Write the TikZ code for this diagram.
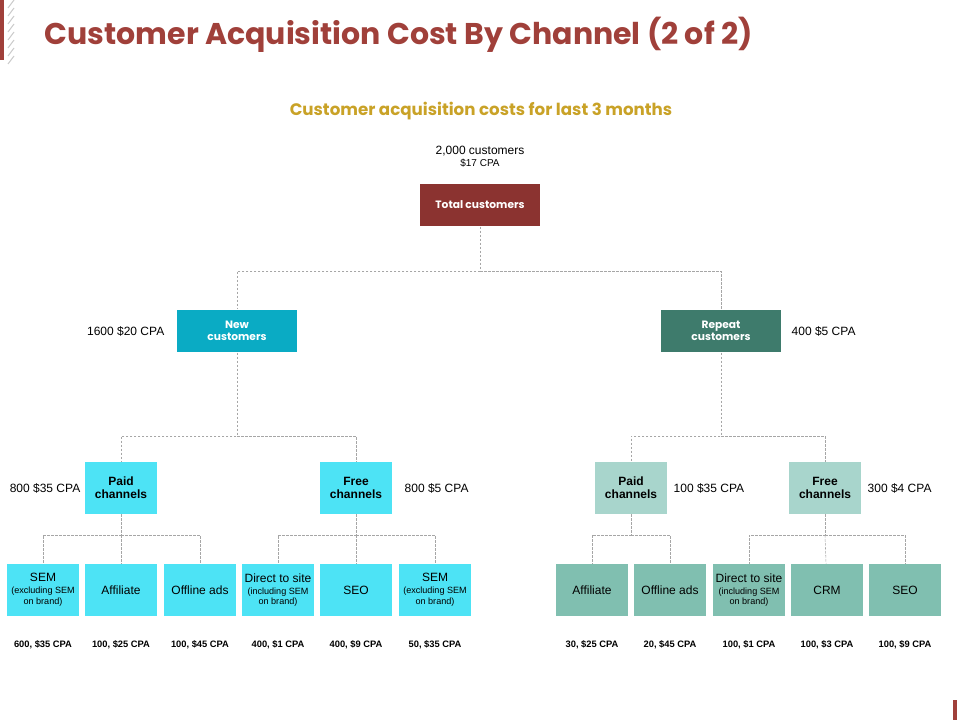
\documentclass[tikz,border=0pt]{standalone}
\usepackage{fontspec}
\setmainfont{Liberation Sans}
\newfontfamily\headfont{Poppins}
\usetikzlibrary{positioning}
\definecolor{titlered}{HTML}{A0403A}
\definecolor{subgold}{HTML}{C9A227}
\definecolor{totred}{HTML}{8B3330}
\definecolor{newblue}{HTML}{0AABC4}
\definecolor{repgreen}{HTML}{3E7B6C}
\definecolor{lightcyan}{HTML}{4DE3F5}
\definecolor{palegreen}{HTML}{A8D5CC}
\definecolor{midgreen}{HTML}{80BFB0}
\newcommand{\subtxt}[1]{{\fontsize{6.8}{7.5}\selectfont #1}}
\tikzset{
  box/.style={inner sep=1pt, align=center, minimum width=53.5pt, minimum height=39pt, font=\fontsize{9}{10}\selectfont},
  bigbox/.style={box, minimum width=90pt, minimum height=32pt, text=white, font=\headfont\bfseries\fontsize{8}{9}\selectfont},
  midbox/.style={box, font=\bfseries\fontsize{9}{10}\selectfont},
  conn/.style={draw=gray!70, dashed, dash pattern=on 2pt off 1pt, line width=0.4pt},
  cpa/.style={font=\fontsize{9}{10}\selectfont},
  low/.style={font=\bfseries\fontsize{7}{8}\selectfont}
}
\begin{document}
\begin{tikzpicture}[x=0.75pt,y=-0.75pt]
\useasboundingbox (0,0) rectangle (960,720);
% header
\fill[titlered] (0,0) rectangle (4,60);
\foreach \y in {0,8,...,56} \draw[gray!40, line width=0.8pt] (8,\y+8) -- (14,\y);
\node[anchor=west, text=titlered, font=\headfont\bfseries\fontsize{22.5}{26}\selectfont] (title) at (40,35) {Customer Acquisition Cost By Channel (2 of 2)};
\node[text=subgold, font=\headfont\bfseries\fontsize{12.5}{14}\selectfont] (sub) at (481,111) {Customer acquisition costs for last 3 months};
\fill[titlered] (953,700) rectangle (957,720);

% level 0 and 1
\node[align=center, font=\fontsize{9}{10}\selectfont] (totlab) at (480,157) {2,000 customers\\[-1pt]{\fontsize{7.5}{8}\selectfont \$17 CPA}};
\node[bigbox, fill=totred] (tot) at (480,205) {Total customers};
\node[bigbox, fill=newblue] (new) at (237,331) {New\\customers};
\node[bigbox, fill=repgreen] (rep) at (721,331) {Repeat\\customers};
\node[cpa, anchor=east] (newlab) at (169,331) {1600 \$20 CPA};
\node[cpa, anchor=west] (replab) at (787,331) {400 \$5 CPA};

% level 2
\node[midbox, fill=lightcyan] (npaid) at (121,488) {Paid\\channels};
\node[midbox, fill=lightcyan] (nfree) at (356,488) {Free\\channels};
\node[midbox, fill=palegreen] (rpaid) at (631,488) {Paid\\channels};
\node[midbox, fill=palegreen] (rfree) at (825,488) {Free\\channels};
\node[cpa, anchor=east] (npaidlab) at (85,488) {800 \$35 CPA};
\node[cpa, anchor=west] (nfreelab) at (400,488) {800 \$5 CPA};
\node[cpa, anchor=west] (rpaidlab) at (669,488) {100 \$35 CPA};
\node[cpa, anchor=west] (rfreelab) at (863,488) {300 \$4 CPA};

% level 3
\node[box, fill=lightcyan] (a) at (43,590) {SEM\\[-1pt]\subtxt{(excluding SEM}\\[-2pt]\subtxt{on brand)}};
\node[box, fill=lightcyan] (b) at (121,590) {Affiliate};
\node[box, fill=lightcyan] (c) at (200,590) {Offline ads};
\node[box, fill=lightcyan] (d) at (278,590) {Direct to site\\[-1pt]\subtxt{(including SEM}\\[-2pt]\subtxt{on brand)}};
\node[box, fill=lightcyan] (e) at (356,590) {SEO};
\node[box, fill=lightcyan] (f) at (435,590) {SEM\\[-1pt]\subtxt{(excluding SEM}\\[-2pt]\subtxt{on brand)}};
\node[box, fill=midgreen] (g) at (592,590) {Affiliate};
\node[box, fill=midgreen] (h) at (670,590) {Offline ads};
\node[box, fill=midgreen] (i) at (749,590) {Direct to site\\[-1pt]\subtxt{(including SEM}\\[-2pt]\subtxt{on brand)}};
\node[box, fill=midgreen] (j) at (827,590) {CRM};
\node[box, fill=midgreen] (k) at (905,590) {SEO};
\node[low] (alab) at (43,645) {600, \$35 CPA};
\node[low] (blab) at (121,645) {100, \$25 CPA};
\node[low] (clab) at (200,645) {100, \$45 CPA};
\node[low] (dlab) at (278,645) {400, \$1 CPA};
\node[low] (elab) at (356,645) {400, \$9 CPA};
\node[low] (flab) at (435,645) {50, \$35 CPA};
\node[low] (glab) at (592,645) {30, \$25 CPA};
\node[low] (hlab) at (670,645) {20, \$45 CPA};
\node[low] (ilab) at (749,645) {100, \$1 CPA};
\node[low] (jlab) at (827,645) {100, \$3 CPA};
\node[low] (klab) at (905,645) {100, \$9 CPA};

% connectors
\coordinate (j0) at (480,271);
\coordinate (j1) at (237,436);
\coordinate (j2) at (721,436);
\coordinate (j3) at (121,535);
\coordinate (j4) at (356,535);
\coordinate (j5) at (631,535);
\coordinate (j6) at (825,535);
\draw[conn] (tot) -- (j0) -| (new);
\draw[conn] (j0) -| (rep);
\draw[conn] (new) -- (j1) -| (npaid);
\draw[conn] (j1) -| (nfree);
\draw[conn] (rep) -- (j2) -| (rpaid);
\draw[conn] (j2) -| (rfree);
\draw[conn] (npaid) -- (j3) -| (a);
\draw[conn] (j3) -- (b);
\draw[conn] (j3) -| (c);
\draw[conn] (nfree) -- (j4) -| (d);
\draw[conn] (j4) -- (e);
\draw[conn] (j4) -| (f);
\draw[conn] (rpaid) -- (j5) -| (g);
\draw[conn] (j5) -| (h);
\draw[conn] (rfree) -- (j6) -| (i);
\draw[conn] (j6) -- (j);
\draw[conn] (j6) -| (k);
\end{tikzpicture}
\end{document}
